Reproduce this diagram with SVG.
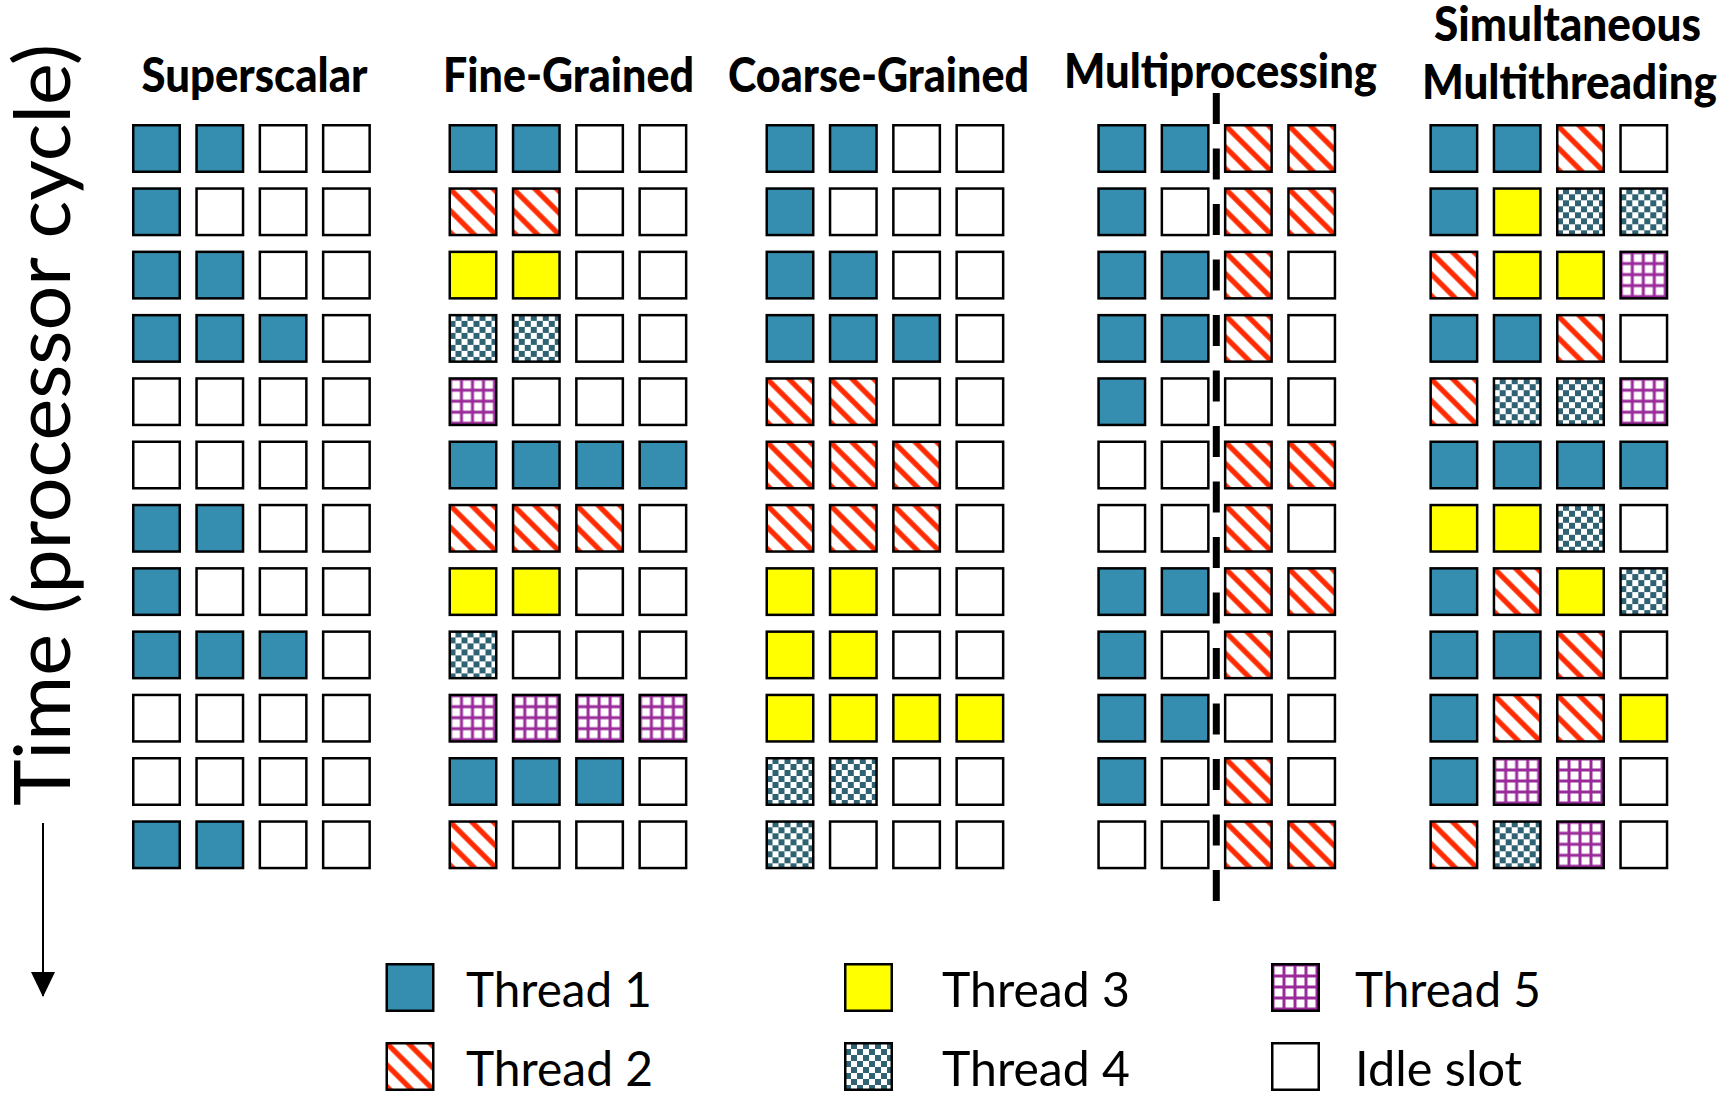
<svg xmlns="http://www.w3.org/2000/svg" xmlns:xlink="http://www.w3.org/1999/xlink" width="1732" height="1093" viewBox="0 0 1732 1093">
<style>
.cell{stroke:#000;stroke-width:2.5}
.title{font-family:Lato,"Open Sans","Liberation Sans",sans-serif;font-weight:900;font-size:47px;fill:#000}
.leg{font-family:Lato,"Open Sans","Liberation Sans",sans-serif;font-size:48px;fill:#000}
.axis{font-family:Lato,"Open Sans","Liberation Sans",sans-serif;font-size:78px;fill:#000}
</style>
<defs>
<pattern id="pStripe" patternUnits="userSpaceOnUse" width="15.3" height="15.3" patternTransform="rotate(-45)">
<rect width="15.3" height="15.3" fill="#fff"/>
<rect x="0" y="0" width="2.6" height="15.3" fill="#FF2A00"/>
<rect x="12.7" y="0" width="2.6" height="15.3" fill="#FF2A00"/>
</pattern>
<pattern id="pCheck" patternUnits="userSpaceOnUse" width="12" height="12" x="1" y="1">
<rect width="12" height="12" fill="#fff"/>
<rect x="6" y="0" width="6" height="6" fill="#2F6272"/>
<rect x="0" y="6" width="6" height="6" fill="#2F6272"/>
</pattern>
<pattern id="pGrid" patternUnits="userSpaceOnUse" width="11" height="11">
<rect width="11" height="11" fill="#fff"/>
<rect x="0.5" y="0" width="3" height="11" fill="#9A2A9A"/>
<rect x="0" y="0.5" width="11" height="3" fill="#9A2A9A"/>
</pattern>
<rect id="i0" class="cell" x="1.25" y="1.25" width="46.5" height="46.5" fill="#fff"/>
<rect id="i1" class="cell" x="1.25" y="1.25" width="46.5" height="46.5" fill="#358DAF"/>
<rect id="i2" class="cell" x="1.25" y="1.25" width="46.5" height="46.5" fill="url(#pStripe)"/>
<rect id="i3" class="cell" x="1.25" y="1.25" width="46.5" height="46.5" fill="#FFFF00"/>
<rect id="i4" class="cell" x="1.25" y="1.25" width="46.5" height="46.5" fill="url(#pCheck)"/>
<rect id="i5" class="cell" x="1.25" y="1.25" width="46.5" height="46.5" fill="url(#pGrid)"/>
<marker id="arrowHead" markerUnits="userSpaceOnUse" markerWidth="26" markerHeight="26" refX="24" refY="12" orient="auto" viewBox="0 0 26 24">
<path d="M0,0 L25,12 L0,24 Z" fill="#000"/>
</marker>
</defs>
<rect width="1732" height="1093" fill="#fff"/>

<g id="titles">
<text class="title" x="141.5" y="92" textLength="226" lengthAdjust="spacingAndGlyphs">Superscalar</text>
<text class="title" x="443" y="92" textLength="251" lengthAdjust="spacingAndGlyphs">Fine-Grained</text>
<text class="title" x="728" y="92" textLength="301" lengthAdjust="spacingAndGlyphs">Coarse-Grained</text>
<text class="title" x="1064" y="88" textLength="313" lengthAdjust="spacingAndGlyphs">Multiprocessing</text>
<text class="title" x="1434" y="41" textLength="267" lengthAdjust="spacingAndGlyphs">Simultaneous</text>
<text class="title" x="1422" y="99" textLength="295" lengthAdjust="spacingAndGlyphs">Multithreading</text>
</g>

<g id="axis">
<text class="axis" transform="translate(70,806) rotate(-90)" x="0" y="0" textLength="762" lengthAdjust="spacingAndGlyphs">Time (processor cycle)</text>
</g>

<g id="connectors">
<line x1="43" y1="823" x2="43" y2="996" stroke="#000" stroke-width="2" marker-end="url(#arrowHead)"/>
<line x1="1216.3" y1="93" x2="1216.3" y2="901" stroke="#000" stroke-width="7" stroke-dasharray="31 24.5"/>
</g>

<g id="superscalar" transform="translate(132,124)">
<use href="#i1" x="0" y="0"/><use href="#i1" x="63.3" y="0"/><use href="#i0" x="126.6" y="0"/><use href="#i0" x="189.9" y="0"/>
<use href="#i1" x="0" y="63.3"/><use href="#i0" x="63.3" y="63.3"/><use href="#i0" x="126.6" y="63.3"/><use href="#i0" x="189.9" y="63.3"/>
<use href="#i1" x="0" y="126.6"/><use href="#i1" x="63.3" y="126.6"/><use href="#i0" x="126.6" y="126.6"/><use href="#i0" x="189.9" y="126.6"/>
<use href="#i1" x="0" y="189.9"/><use href="#i1" x="63.3" y="189.9"/><use href="#i1" x="126.6" y="189.9"/><use href="#i0" x="189.9" y="189.9"/>
<use href="#i0" x="0" y="253.2"/><use href="#i0" x="63.3" y="253.2"/><use href="#i0" x="126.6" y="253.2"/><use href="#i0" x="189.9" y="253.2"/>
<use href="#i0" x="0" y="316.5"/><use href="#i0" x="63.3" y="316.5"/><use href="#i0" x="126.6" y="316.5"/><use href="#i0" x="189.9" y="316.5"/>
<use href="#i1" x="0" y="379.8"/><use href="#i1" x="63.3" y="379.8"/><use href="#i0" x="126.6" y="379.8"/><use href="#i0" x="189.9" y="379.8"/>
<use href="#i1" x="0" y="443.1"/><use href="#i0" x="63.3" y="443.1"/><use href="#i0" x="126.6" y="443.1"/><use href="#i0" x="189.9" y="443.1"/>
<use href="#i1" x="0" y="506.4"/><use href="#i1" x="63.3" y="506.4"/><use href="#i1" x="126.6" y="506.4"/><use href="#i0" x="189.9" y="506.4"/>
<use href="#i0" x="0" y="569.7"/><use href="#i0" x="63.3" y="569.7"/><use href="#i0" x="126.6" y="569.7"/><use href="#i0" x="189.9" y="569.7"/>
<use href="#i0" x="0" y="633"/><use href="#i0" x="63.3" y="633"/><use href="#i0" x="126.6" y="633"/><use href="#i0" x="189.9" y="633"/>
<use href="#i1" x="0" y="696.3"/><use href="#i1" x="63.3" y="696.3"/><use href="#i0" x="126.6" y="696.3"/><use href="#i0" x="189.9" y="696.3"/>
</g>

<g id="fine-grained" transform="translate(448.5,124)">
<use href="#i1" x="0" y="0"/><use href="#i1" x="63.3" y="0"/><use href="#i0" x="126.6" y="0"/><use href="#i0" x="189.9" y="0"/>
<use href="#i2" x="0" y="63.3"/><use href="#i2" x="63.3" y="63.3"/><use href="#i0" x="126.6" y="63.3"/><use href="#i0" x="189.9" y="63.3"/>
<use href="#i3" x="0" y="126.6"/><use href="#i3" x="63.3" y="126.6"/><use href="#i0" x="126.6" y="126.6"/><use href="#i0" x="189.9" y="126.6"/>
<use href="#i4" x="0" y="189.9"/><use href="#i4" x="63.3" y="189.9"/><use href="#i0" x="126.6" y="189.9"/><use href="#i0" x="189.9" y="189.9"/>
<use href="#i5" x="0" y="253.2"/><use href="#i0" x="63.3" y="253.2"/><use href="#i0" x="126.6" y="253.2"/><use href="#i0" x="189.9" y="253.2"/>
<use href="#i1" x="0" y="316.5"/><use href="#i1" x="63.3" y="316.5"/><use href="#i1" x="126.6" y="316.5"/><use href="#i1" x="189.9" y="316.5"/>
<use href="#i2" x="0" y="379.8"/><use href="#i2" x="63.3" y="379.8"/><use href="#i2" x="126.6" y="379.8"/><use href="#i0" x="189.9" y="379.8"/>
<use href="#i3" x="0" y="443.1"/><use href="#i3" x="63.3" y="443.1"/><use href="#i0" x="126.6" y="443.1"/><use href="#i0" x="189.9" y="443.1"/>
<use href="#i4" x="0" y="506.4"/><use href="#i0" x="63.3" y="506.4"/><use href="#i0" x="126.6" y="506.4"/><use href="#i0" x="189.9" y="506.4"/>
<use href="#i5" x="0" y="569.7"/><use href="#i5" x="63.3" y="569.7"/><use href="#i5" x="126.6" y="569.7"/><use href="#i5" x="189.9" y="569.7"/>
<use href="#i1" x="0" y="633"/><use href="#i1" x="63.3" y="633"/><use href="#i1" x="126.6" y="633"/><use href="#i0" x="189.9" y="633"/>
<use href="#i2" x="0" y="696.3"/><use href="#i0" x="63.3" y="696.3"/><use href="#i0" x="126.6" y="696.3"/><use href="#i0" x="189.9" y="696.3"/>
</g>

<g id="coarse-grained" transform="translate(765.5,124)">
<use href="#i1" x="0" y="0"/><use href="#i1" x="63.3" y="0"/><use href="#i0" x="126.6" y="0"/><use href="#i0" x="189.9" y="0"/>
<use href="#i1" x="0" y="63.3"/><use href="#i0" x="63.3" y="63.3"/><use href="#i0" x="126.6" y="63.3"/><use href="#i0" x="189.9" y="63.3"/>
<use href="#i1" x="0" y="126.6"/><use href="#i1" x="63.3" y="126.6"/><use href="#i0" x="126.6" y="126.6"/><use href="#i0" x="189.9" y="126.6"/>
<use href="#i1" x="0" y="189.9"/><use href="#i1" x="63.3" y="189.9"/><use href="#i1" x="126.6" y="189.9"/><use href="#i0" x="189.9" y="189.9"/>
<use href="#i2" x="0" y="253.2"/><use href="#i2" x="63.3" y="253.2"/><use href="#i0" x="126.6" y="253.2"/><use href="#i0" x="189.9" y="253.2"/>
<use href="#i2" x="0" y="316.5"/><use href="#i2" x="63.3" y="316.5"/><use href="#i2" x="126.6" y="316.5"/><use href="#i0" x="189.9" y="316.5"/>
<use href="#i2" x="0" y="379.8"/><use href="#i2" x="63.3" y="379.8"/><use href="#i2" x="126.6" y="379.8"/><use href="#i0" x="189.9" y="379.8"/>
<use href="#i3" x="0" y="443.1"/><use href="#i3" x="63.3" y="443.1"/><use href="#i0" x="126.6" y="443.1"/><use href="#i0" x="189.9" y="443.1"/>
<use href="#i3" x="0" y="506.4"/><use href="#i3" x="63.3" y="506.4"/><use href="#i0" x="126.6" y="506.4"/><use href="#i0" x="189.9" y="506.4"/>
<use href="#i3" x="0" y="569.7"/><use href="#i3" x="63.3" y="569.7"/><use href="#i3" x="126.6" y="569.7"/><use href="#i3" x="189.9" y="569.7"/>
<use href="#i4" x="0" y="633"/><use href="#i4" x="63.3" y="633"/><use href="#i0" x="126.6" y="633"/><use href="#i0" x="189.9" y="633"/>
<use href="#i4" x="0" y="696.3"/><use href="#i0" x="63.3" y="696.3"/><use href="#i0" x="126.6" y="696.3"/><use href="#i0" x="189.9" y="696.3"/>
</g>

<g id="multiprocessing" transform="translate(1097.3,124)">
<use href="#i1" x="0" y="0"/><use href="#i1" x="63.3" y="0"/><use href="#i2" x="126.6" y="0"/><use href="#i2" x="189.9" y="0"/>
<use href="#i1" x="0" y="63.3"/><use href="#i0" x="63.3" y="63.3"/><use href="#i2" x="126.6" y="63.3"/><use href="#i2" x="189.9" y="63.3"/>
<use href="#i1" x="0" y="126.6"/><use href="#i1" x="63.3" y="126.6"/><use href="#i2" x="126.6" y="126.6"/><use href="#i0" x="189.9" y="126.6"/>
<use href="#i1" x="0" y="189.9"/><use href="#i1" x="63.3" y="189.9"/><use href="#i2" x="126.6" y="189.9"/><use href="#i0" x="189.9" y="189.9"/>
<use href="#i1" x="0" y="253.2"/><use href="#i0" x="63.3" y="253.2"/><use href="#i0" x="126.6" y="253.2"/><use href="#i0" x="189.9" y="253.2"/>
<use href="#i0" x="0" y="316.5"/><use href="#i0" x="63.3" y="316.5"/><use href="#i2" x="126.6" y="316.5"/><use href="#i2" x="189.9" y="316.5"/>
<use href="#i0" x="0" y="379.8"/><use href="#i0" x="63.3" y="379.8"/><use href="#i2" x="126.6" y="379.8"/><use href="#i0" x="189.9" y="379.8"/>
<use href="#i1" x="0" y="443.1"/><use href="#i1" x="63.3" y="443.1"/><use href="#i2" x="126.6" y="443.1"/><use href="#i2" x="189.9" y="443.1"/>
<use href="#i1" x="0" y="506.4"/><use href="#i0" x="63.3" y="506.4"/><use href="#i2" x="126.6" y="506.4"/><use href="#i0" x="189.9" y="506.4"/>
<use href="#i1" x="0" y="569.7"/><use href="#i1" x="63.3" y="569.7"/><use href="#i0" x="126.6" y="569.7"/><use href="#i0" x="189.9" y="569.7"/>
<use href="#i1" x="0" y="633"/><use href="#i0" x="63.3" y="633"/><use href="#i2" x="126.6" y="633"/><use href="#i0" x="189.9" y="633"/>
<use href="#i0" x="0" y="696.3"/><use href="#i0" x="63.3" y="696.3"/><use href="#i2" x="126.6" y="696.3"/><use href="#i2" x="189.9" y="696.3"/>
</g>

<g id="smt" transform="translate(1429.4,124)">
<use href="#i1" x="0" y="0"/><use href="#i1" x="63.3" y="0"/><use href="#i2" x="126.6" y="0"/><use href="#i0" x="189.9" y="0"/>
<use href="#i1" x="0" y="63.3"/><use href="#i3" x="63.3" y="63.3"/><use href="#i4" x="126.6" y="63.3"/><use href="#i4" x="189.9" y="63.3"/>
<use href="#i2" x="0" y="126.6"/><use href="#i3" x="63.3" y="126.6"/><use href="#i3" x="126.6" y="126.6"/><use href="#i5" x="189.9" y="126.6"/>
<use href="#i1" x="0" y="189.9"/><use href="#i1" x="63.3" y="189.9"/><use href="#i2" x="126.6" y="189.9"/><use href="#i0" x="189.9" y="189.9"/>
<use href="#i2" x="0" y="253.2"/><use href="#i4" x="63.3" y="253.2"/><use href="#i4" x="126.6" y="253.2"/><use href="#i5" x="189.9" y="253.2"/>
<use href="#i1" x="0" y="316.5"/><use href="#i1" x="63.3" y="316.5"/><use href="#i1" x="126.6" y="316.5"/><use href="#i1" x="189.9" y="316.5"/>
<use href="#i3" x="0" y="379.8"/><use href="#i3" x="63.3" y="379.8"/><use href="#i4" x="126.6" y="379.8"/><use href="#i0" x="189.9" y="379.8"/>
<use href="#i1" x="0" y="443.1"/><use href="#i2" x="63.3" y="443.1"/><use href="#i3" x="126.6" y="443.1"/><use href="#i4" x="189.9" y="443.1"/>
<use href="#i1" x="0" y="506.4"/><use href="#i1" x="63.3" y="506.4"/><use href="#i2" x="126.6" y="506.4"/><use href="#i0" x="189.9" y="506.4"/>
<use href="#i1" x="0" y="569.7"/><use href="#i2" x="63.3" y="569.7"/><use href="#i2" x="126.6" y="569.7"/><use href="#i3" x="189.9" y="569.7"/>
<use href="#i1" x="0" y="633"/><use href="#i5" x="63.3" y="633"/><use href="#i5" x="126.6" y="633"/><use href="#i0" x="189.9" y="633"/>
<use href="#i2" x="0" y="696.3"/><use href="#i4" x="63.3" y="696.3"/><use href="#i5" x="126.6" y="696.3"/><use href="#i0" x="189.9" y="696.3"/>
</g>

<g id="legend-thread1"><use href="#i1" x="385.5" y="963"/><text class="leg" x="466" y="1007" textLength="186" lengthAdjust="spacingAndGlyphs">Thread 1</text></g>
<g id="legend-thread2"><use href="#i2" x="385.5" y="1042"/><text class="leg" x="466" y="1086" textLength="187" lengthAdjust="spacingAndGlyphs">Thread 2</text></g>
<g id="legend-thread3"><use href="#i3" x="844" y="963"/><text class="leg" x="942" y="1007" textLength="188" lengthAdjust="spacingAndGlyphs">Thread 3</text></g>
<g id="legend-thread4"><use href="#i4" x="844" y="1042"/><text class="leg" x="942" y="1086" textLength="188" lengthAdjust="spacingAndGlyphs">Thread 4</text></g>
<g id="legend-thread5"><use href="#i5" x="1271" y="963"/><text class="leg" x="1355" y="1007" textLength="186" lengthAdjust="spacingAndGlyphs">Thread 5</text></g>
<g id="legend-idle"><use href="#i0" x="1271" y="1042"/><text class="leg" x="1355" y="1086" textLength="167" lengthAdjust="spacingAndGlyphs">Idle slot</text></g>
</svg>
